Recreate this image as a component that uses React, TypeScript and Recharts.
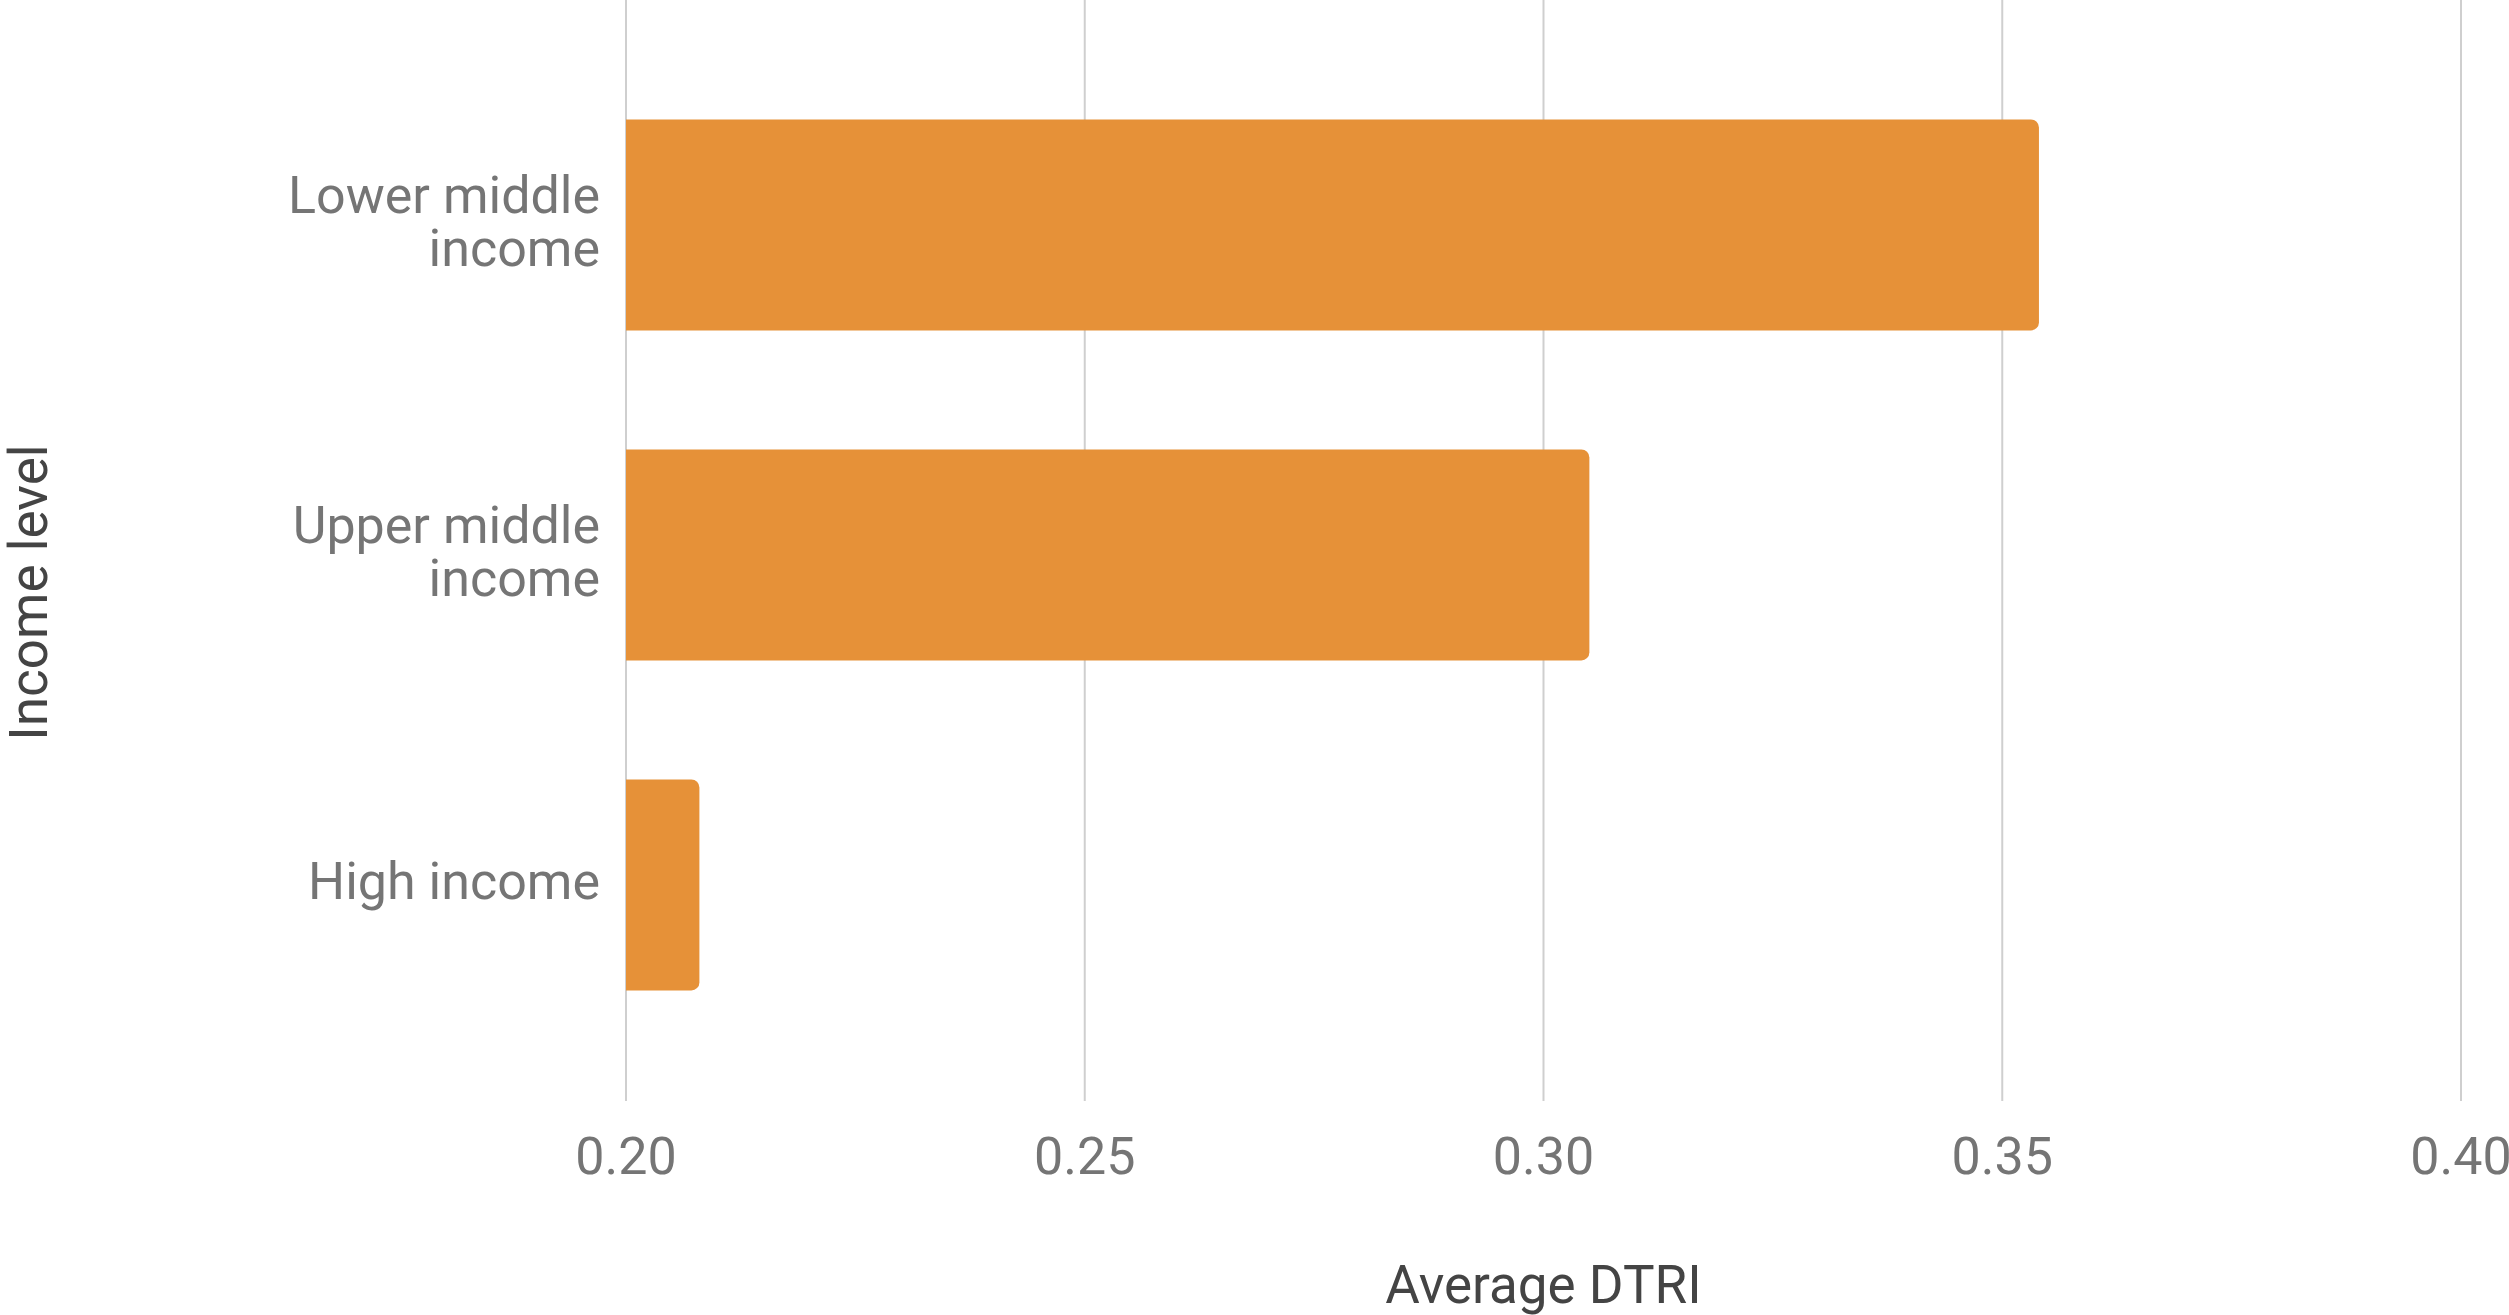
import React from 'react'
import { BarChart, Bar, XAxis, YAxis, CartesianGrid, Label } from 'recharts'

const categories = ['Lower middle income', 'Upper middle income', 'High income']
const avgDtri = [0.354, 0.305, 0.208]
const xTicks = [0.2, 0.25, 0.3, 0.35, 0.4]

const chartData = categories.map((name, i) => ({ name, value: avgDtri[i] }))

const FONT = 'Roboto, "Noto Sans", sans-serif'

// wrap long category names onto two lines, split at the last space
function splitLabel(label: string) {
  if (label.length <= 12) return [label]
  const idx = label.lastIndexOf(' ')
  return [label.slice(0, idx), label.slice(idx + 1)]
}

function CategoryTick({ x, y, payload }: any) {
  const lines = splitLabel(String(payload.value))
  const lineHeight = 53
  const firstDy = -((lines.length - 1) * lineHeight) / 2
  return (
    <text x={x} y={y} textAnchor="end" fill="#757575" fontSize={52} fontFamily={FONT}>
      {lines.map((line, i) => (
        <tspan key={i} x={x} dy={i === 0 ? firstDy + 14 : lineHeight}>{line}</tspan>
      ))}
    </text>
  )
}

function ValueTick({ x, y, payload }: any) {
  return (
    <text x={x} y={y + 73} textAnchor="middle" fill="#757575" fontSize={52} fontFamily={FONT}>
      {Number(payload.value).toFixed(2)}
    </text>
  )
}

export default function App() {
  return (
    <div style={{ position: 'absolute', top: 0, left: 0, width: 2509, height: 1315, overflow: 'hidden', background: '#fff' }}>
      <BarChart
        width={2509}
        height={1315}
        data={chartData}
        layout="vertical"
        margin={{ top: 0, right: 48, left: 0, bottom: 0 }}
        barCategoryGap="18%"
      >
        <CartesianGrid horizontal={false} stroke="#cfcfcf" strokeWidth={2} />
        <XAxis
          type="number"
          domain={[0.2, 0.4]}
          ticks={xTicks}
          allowDataOverflow
          axisLine={false}
          tickLine={false}
          tickSize={0}
          tickMargin={0}
          height={214}
          tick={<ValueTick />}
        >
          <Label
            value="Average DTRI"
            position="insideBottom"
            offset={12}
            fill="#444"
            fontSize={53}
            fontFamily={FONT}
          />
        </XAxis>
        <YAxis
          type="category"
          dataKey="name"
          width={626}
          axisLine={false}
          tickLine={false}
          tickSize={0}
          tickMargin={26}
          padding={{ top: 60, bottom: 51 }}
          tick={<CategoryTick />}
        >
          <Label
            content={({ viewBox }: any) => {
              const cx = 29
              const cy = viewBox.y + viewBox.height / 2 + 42
              return (
                <text
                  x={cx}
                  y={cy}
                  transform={`rotate(-90, ${cx}, ${cy})`}
                  textAnchor="middle"
                  dominantBaseline="central"
                  fill="#444"
                  fontSize={53}
                  fontFamily={FONT}
                >
                  Income level
                </text>
              )
            }}
          />
        </YAxis>
        <Bar dataKey="value" fill="#E69138" radius={[0, 8, 8, 0]} isAnimationActive={false} />
      </BarChart>
    </div>
  )
}
